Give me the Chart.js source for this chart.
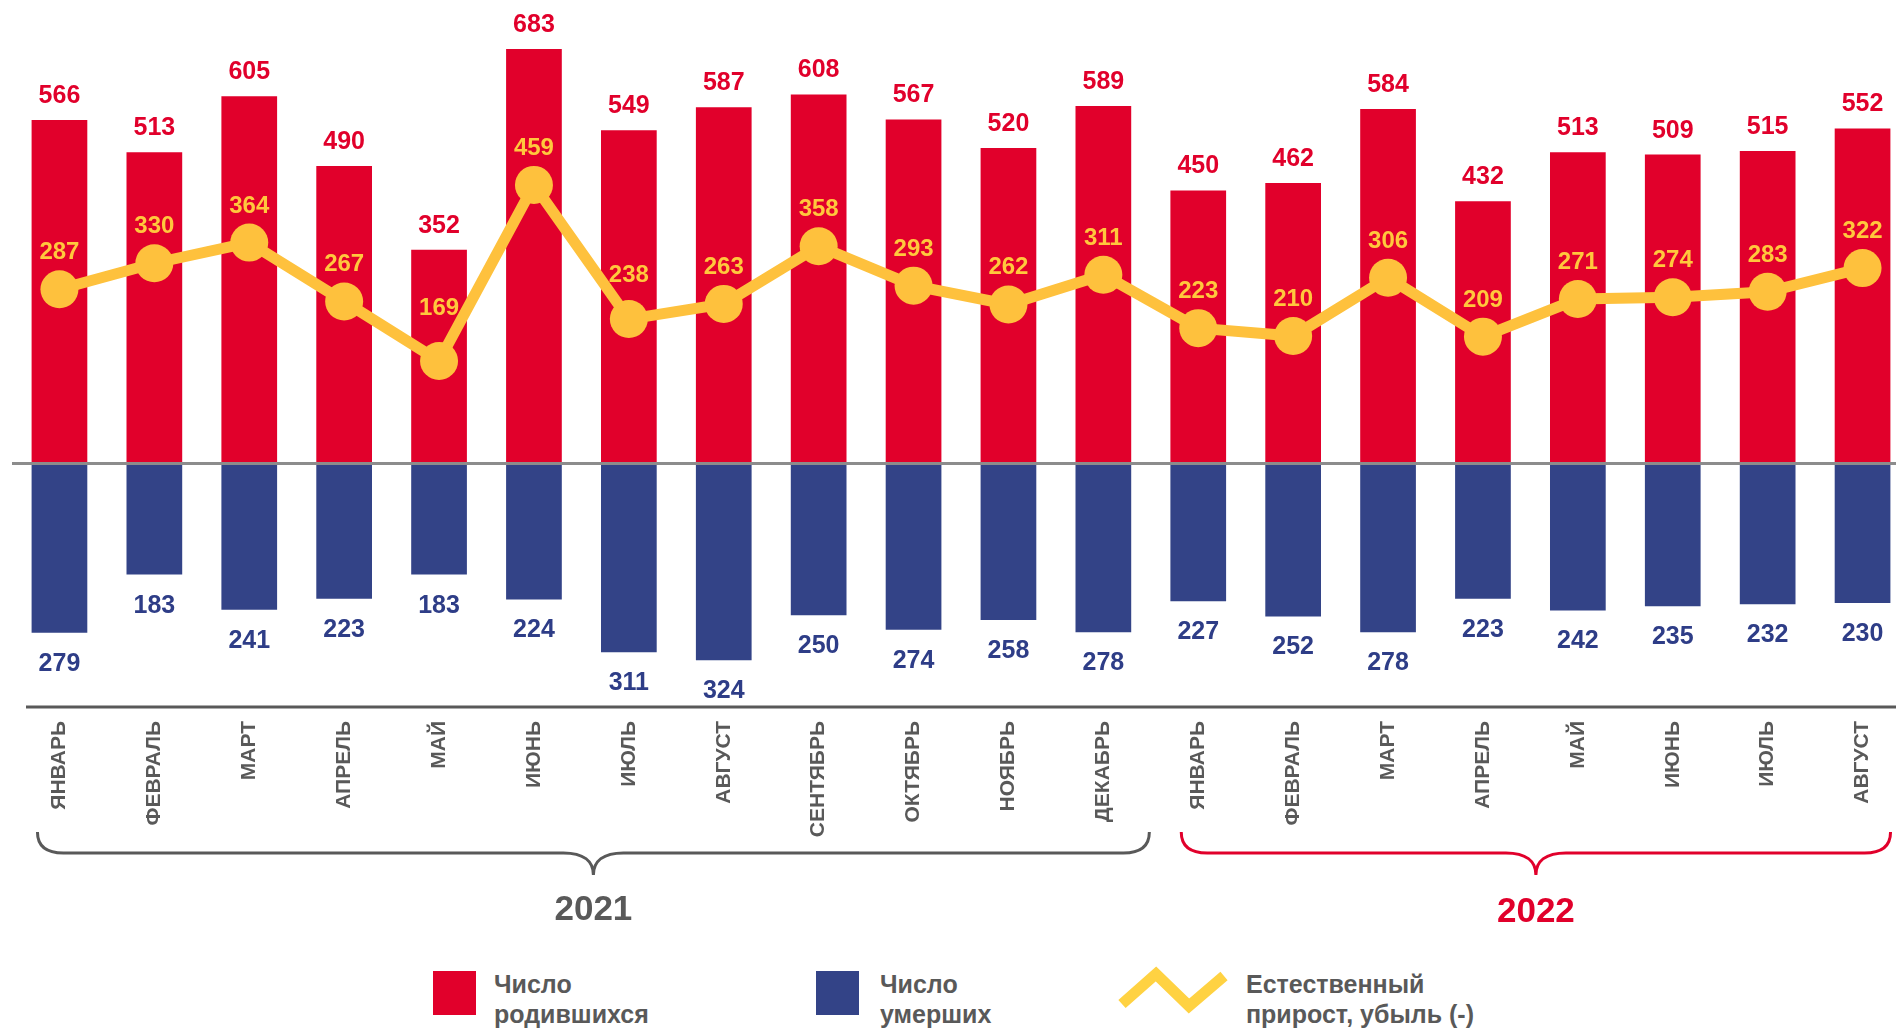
<!DOCTYPE html>
<html lang="ru">
<head>
<meta charset="utf-8">
<title>Рождаемость, смертность и естественный прирост</title>
<script src="https://cdn.jsdelivr.net/npm/chart.js@4.4.1/dist/chart.umd.min.js"></script>
<style>
  html, body { margin: 0; padding: 0; background: #fff; }
  body {
    width: 1896px; height: 1030px; overflow: hidden; position: relative;
    font-family: "Liberation Sans", Arial, sans-serif; font-weight: bold; color: #595959;
  }
  #chart-box { position: absolute; left: 0; top: 0; width: 1910px; height: 907px; }
  .year { position: absolute; width: 200px; text-align: center; font-size: 35px; line-height: 40px; }
  #year-0 { top: 888px; color: #595959; }
  #year-1 { top: 890px; color: #E1002B; }
  .legend-box { position: absolute; top: 971px; width: 43px; height: 44px; }
  .legend-text { position: absolute; top: 969px; font-size: 25px; line-height: 30px; white-space: nowrap; }
</style>
</head>
<body>
<div id="chart-box"><canvas id="demoChart"></canvas></div>

<div class="year" id="year-0">2021</div>
<div class="year" id="year-1">2022</div>

<!-- legend -->
<div class="legend-box" style="left:433px; background:#E1002B;"></div>
<div class="legend-text" style="left:494px;">Число<br>родившихся</div>
<div class="legend-box" style="left:816px; background:#334387;"></div>
<div class="legend-text" style="left:880px;">Число<br>умерших</div>
<svg style="position:absolute; left:1110px; top:960px;" width="130" height="60">
  <polyline points="12,44 46,14 79,46 114,16" fill="none" stroke="#FFD242" stroke-width="11" stroke-linejoin="miter"/>
</svg>
<div class="legend-text" style="left:1246px;">Естественный<br>прирост, убыль (-)</div>

<script>
// --- data ---
const months = ["ЯНВАРЬ", "ФЕВРАЛЬ", "МАРТ", "АПРЕЛЬ", "МАЙ", "ИЮНЬ", "ИЮЛЬ", "АВГУСТ",
  "СЕНТЯБРЬ", "ОКТЯБРЬ", "НОЯБРЬ", "ДЕКАБРЬ",
  "ЯНВАРЬ", "ФЕВРАЛЬ", "МАРТ", "АПРЕЛЬ", "МАЙ", "ИЮНЬ", "ИЮЛЬ", "АВГУСТ"];
const births = [566, 513, 605, 490, 352, 683, 549, 587, 608, 567, 520, 589,
  450, 462, 584, 432, 513, 509, 515, 552];
const deaths = [279, 183, 241, 223, 183, 224, 311, 324, 250, 274, 258, 278,
  227, 252, 278, 223, 242, 235, 232, 230];
const naturalGrowth = [287, 330, 364, 267, 169, 459, 238, 263, 358, 293, 262, 311,
  223, 210, 306, 209, 271, 274, 283, 322];
const years = ["2021", "2022"];
const yearFirstMonth = [0, 12];
const yearLastMonth = [11, 19];

// --- colours ---
const RED = "#E1002B";
const BLUE = "#334387";
const YELLOW = "#FEC13D";
const GRAY = "#595959";
const FONT = '"Liberation Sans", Arial, sans-serif';

// a few growth labels sit higher so the line doesn't cross them (px)
const growthLabelLift = { 4: 16, 6: 7 };

// value labels over / under bars and over points
const valueLabels = {
  id: "valueLabels",
  afterDatasetsDraw(chart) {
    const { ctx, scales } = chart;
    const zeroY = scales.y.getPixelForValue(0);

    // zero line
    ctx.save();
    ctx.strokeStyle = "#8C8C8C";
    ctx.lineWidth = 3;
    ctx.beginPath();
    ctx.moveTo(chart.chartArea.left, zeroY);
    ctx.lineTo(chart.width, zeroY);
    ctx.stroke();

    // bottom axis line
    ctx.strokeStyle = GRAY;
    ctx.beginPath();
    ctx.moveTo(chart.chartArea.left + 14, chart.chartArea.bottom);
    ctx.lineTo(chart.width, chart.chartArea.bottom);
    ctx.stroke();

    ctx.textAlign = "center";
    ctx.textBaseline = "alphabetic";
    ctx.font = "bold 25px " + FONT;

    ctx.fillStyle = RED;
    chart.getDatasetMeta(0).data.forEach((bar, i) => {
      ctx.fillText(String(births[i]), bar.x, bar.y - 17);
    });

    ctx.fillStyle = "#2E3D87";
    chart.getDatasetMeta(1).data.forEach((bar, i) => {
      ctx.fillText(String(deaths[i]), bar.x, bar.y + 38);
    });

    ctx.font = "bold 24px " + FONT;
    ctx.fillStyle = "#FFC83D";
    chart.getDatasetMeta(2).data.forEach((pt, i) => {
      const lift = growthLabelLift[i] || 0;
      ctx.fillText(String(naturalGrowth[i]), pt.x, pt.y - 30 - lift);
    });
    ctx.restore();
  }
};

// curly braces under the month labels
const yearBraces = {
  id: "yearBraces",
  afterDraw(chart) {
    const { ctx } = chart;
    const x = chart.scales.x;
    const extra = [[22, 46], [17, 28]];
    const braceColors = [GRAY, RED];
    const topY = 832, midY = 853, tipY = 875;

    years.forEach((yr, k) => {
      const x0 = x.getPixelForValue(yearFirstMonth[k]) - extra[k][0];
      const x1 = x.getPixelForValue(yearLastMonth[k]) + extra[k][1];
      const mid = (x0 + x1) / 2;

      ctx.save();
      ctx.strokeStyle = braceColors[k];
      ctx.lineWidth = 3;
      ctx.beginPath();
      ctx.moveTo(x0, topY);
      ctx.bezierCurveTo(x0, midY - 6, x0 + 10, midY, x0 + 26, midY);
      ctx.lineTo(mid - 30, midY);
      ctx.bezierCurveTo(mid - 10, midY, mid, midY + 8, mid, tipY);
      ctx.bezierCurveTo(mid, midY + 8, mid + 10, midY, mid + 30, midY);
      ctx.lineTo(x1 - 26, midY);
      ctx.bezierCurveTo(x1 - 10, midY, x1, midY - 6, x1, topY);
      ctx.stroke();
      ctx.restore();

      document.getElementById("year-" + k).style.left = (mid - 100) + "px";
    });
  }
};

const ctx = document.getElementById("demoChart").getContext("2d");

new Chart(ctx, {
  type: "bar",
  data: {
    labels: months,
    datasets: [
      {
        label: "Число родившихся",
        data: births,
        backgroundColor: RED,
        borderWidth: 0,
        barPercentage: 0.587,
        categoryPercentage: 1,
        order: 1
      },
      {
        label: "Число умерших",
        data: deaths.map(v => -v),
        backgroundColor: BLUE,
        borderWidth: 0,
        barPercentage: 0.587,
        categoryPercentage: 1,
        order: 2
      },
      {
        type: "line",
        label: "Естественный прирост, убыль (-)",
        data: naturalGrowth,
        borderColor: YELLOW,
        backgroundColor: YELLOW,
        borderWidth: 11,
        pointRadius: 19,
        pointBorderWidth: 0,
        pointBackgroundColor: YELLOW,
        tension: 0,
        order: 0
      }
    ]
  },
  options: {
    responsive: true,
    maintainAspectRatio: false,
    animation: false,
    events: [],
    layout: { padding: { left: 12, right: 0, top: 0, bottom: 0 }, autoPadding: false },
    plugins: {
      legend: { display: false },
      tooltip: { enabled: false }
    },
    scales: {
      x: {
        stacked: true,
        offset: true,
        grid: { display: false, drawTicks: false },
        border: { display: false },
        ticks: {
          autoSkip: false,
          minRotation: 90,
          maxRotation: 90,
          padding: 14,
          color: GRAY,
          font: { family: FONT, size: 21, weight: "bold" }
        },
        afterFit(scale) { scale.height = 200; }
      },
      y: {
        display: false,
        min: -401.2,
        max: 763.7
      }
    }
  },
  plugins: [valueLabels, yearBraces]
});
</script>
</body>
</html>
